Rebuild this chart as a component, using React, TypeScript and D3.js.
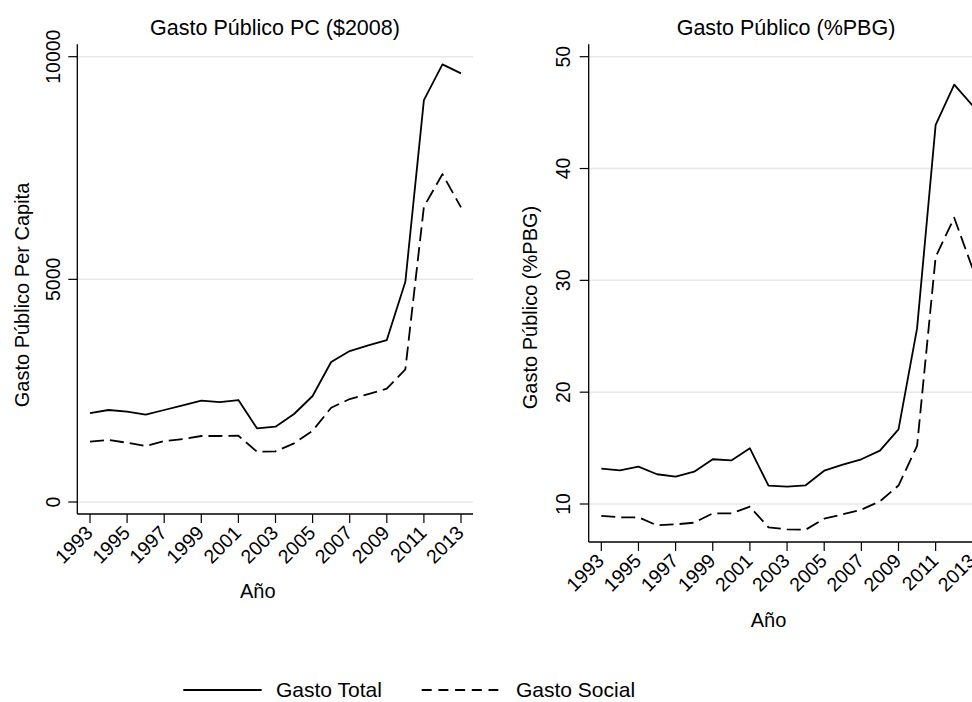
import React from "react";
import * as d3 from "d3";

const years = [1993, 1994, 1995, 1996, 1997, 1998, 1999, 2000, 2001, 2002, 2003, 2004, 2005, 2006, 2007, 2008, 2009, 2010, 2011, 2012, 2013];
const totalPC = [1998, 2066, 2028, 1961, 2066, 2171, 2275, 2245, 2290, 1654, 1691, 1976, 2380, 3143, 3390, 3518, 3637, 4946, 9026, 9827, 9625];
const socialPC = [1354, 1392, 1331, 1257, 1369, 1414, 1482, 1482, 1489, 1129, 1138, 1318, 1601, 2117, 2312, 2425, 2544, 2979, 6630, 7364, 6616];
const totalPBG = [13.16, 13.01, 13.34, 12.66, 12.44, 12.89, 14.0, 13.9, 14.98, 11.64, 11.55, 11.67, 12.98, 13.52, 14.0, 14.77, 16.68, 25.7, 43.9, 47.5, 45.6];
const socialPBG = [8.93, 8.81, 8.81, 8.09, 8.18, 8.33, 9.16, 9.16, 9.76, 7.91, 7.73, 7.7, 8.69, 9.08, 9.49, 10.24, 11.65, 15.2, 32.1, 35.6, 31.0];
const xTicks = [1993, 1995, 1997, 1999, 2001, 2003, 2005, 2007, 2009, 2011, 2013];
const yTicksPC = [0, 5000, 10000];
const yTicksPBG = [10, 20, 30, 40, 50];
const seriesNames = ["Gasto Total", "Gasto Social"];

const FONT = "'Liberation Sans', Arial, Helvetica, sans-serif";
const DASH = "14 6";

type PanelProps = {
  left: number; right: number; top: number; bottom: number;
  x0: number; x1: number;
  yDomain: [number, number]; yRange: [number, number];
  yTicks: number[];
  total: number[]; social: number[];
  title: string; titleX: number;
  yTitle: string; yTitleX: number; yTitleY: number;
  xTitleX: number; xTitleY: number;
  yLabelX: number;
};

function Panel(p: PanelProps) {
  const x = d3.scaleLinear().domain([1993, 2013]).range([p.x0, p.x1]);
  const y = d3.scaleLinear().domain(p.yDomain).range(p.yRange);
  const line = d3.line<number>().x((_, i) => x(years[i])).y((d) => y(d));
  return (
    <g>
      <text x={p.titleX} y={34.5} textAnchor="middle" fontSize={21.5} fontFamily={FONT} fill="#000">{p.title}</text>
      {p.yTicks.map((t) => (
        <line key={"g" + t} x1={p.left} x2={p.right} y1={y(t)} y2={y(t)} stroke="#e8e8e8" strokeWidth={1.5} />
      ))}
      <line x1={p.left} x2={p.left} y1={p.top} y2={p.bottom} stroke="#000" strokeWidth={1.3} />
      <line x1={p.left} x2={p.right} y1={p.bottom} y2={p.bottom} stroke="#000" strokeWidth={1.3} />
      {p.yTicks.map((t) => (
        <g key={"y" + t}>
          <line x1={p.left - 9} x2={p.left} y1={y(t)} y2={y(t)} stroke="#000" strokeWidth={1.2} />
          <text transform={`translate(${p.yLabelX},${y(t)}) rotate(-90)`} textAnchor="middle" fontSize={19.5} fontFamily={FONT} fill="#000">{t}</text>
        </g>
      ))}
      {xTicks.map((t) => (
        <g key={"x" + t}>
          <line x1={x(t)} x2={x(t)} y1={p.bottom} y2={p.bottom + 9} stroke="#000" strokeWidth={1.2} />
          <text transform={`translate(${x(t) + 4},${p.bottom + 20}) rotate(-45)`} textAnchor="end" fontSize={19.5} fontFamily={FONT} fill="#000">{t}</text>
        </g>
      ))}
      <text transform={`translate(${p.yTitleX},${p.yTitleY}) rotate(-90)`} textAnchor="middle" fontSize={20} fontFamily={FONT} fill="#000">{p.yTitle}</text>
      <text x={p.xTitleX} y={p.xTitleY} textAnchor="middle" fontSize={20} fontFamily={FONT} fill="#000">Año</text>
      <path d={line(p.total) || ""} fill="none" stroke="#000" strokeWidth={1.8} strokeLinejoin="round" />
      <path d={line(p.social) || ""} fill="none" stroke="#000" strokeWidth={1.8} strokeDasharray={DASH} strokeLinejoin="round" />
    </g>
  );
}

export default function App() {
  return (
    <svg width={972} height={702} style={{ position: "absolute", left: 0, top: 0, background: "#fff" }}>
      <rect x={0} y={0} width={972} height={702} fill="#fff" />
      <Panel
        left={77.3} right={473} top={44.3} bottom={514}
        x0={90} x1={461}
        yDomain={[0, 10000]} yRange={[502, 56.7]} yTicks={yTicksPC}
        total={totalPC} social={socialPC}
        title="Gasto Público PC ($2008)" titleX={275}
        yTitle="Gasto Público Per Capita" yTitleX={28.5} yTitleY={295}
        xTitleX={257.8} xTitleY={598.3}
        yLabelX={60}
      />
      <Panel
        left={588.7} right={990} top={44.3} bottom={542}
        x0={601.3} x1={972.8}
        yDomain={[10, 50]} yRange={[504, 56.7]} yTicks={yTicksPBG}
        total={totalPBG} social={socialPBG}
        title="Gasto Público (%PBG)" titleX={786}
        yTitle="Gasto Público (%PBG)" yTitleX={537} yTitleY={307.5}
        xTitleX={768.5} xTitleY={626.7}
        yLabelX={570}
      />
      <line x1={183.3} x2={261.7} y1={690} y2={690} stroke="#000" strokeWidth={1.8} />
      <text x={276} y={697} fontSize={21} fontFamily={FONT} fill="#000">{seriesNames[0]}</text>
      <line x1={421.7} x2={498.3} y1={690} y2={690} stroke="#000" strokeWidth={1.8} strokeDasharray="10 6.7" />
      <text x={516} y={697} fontSize={21} fontFamily={FONT} fill="#000">{seriesNames[1]}</text>
    </svg>
  );
}
